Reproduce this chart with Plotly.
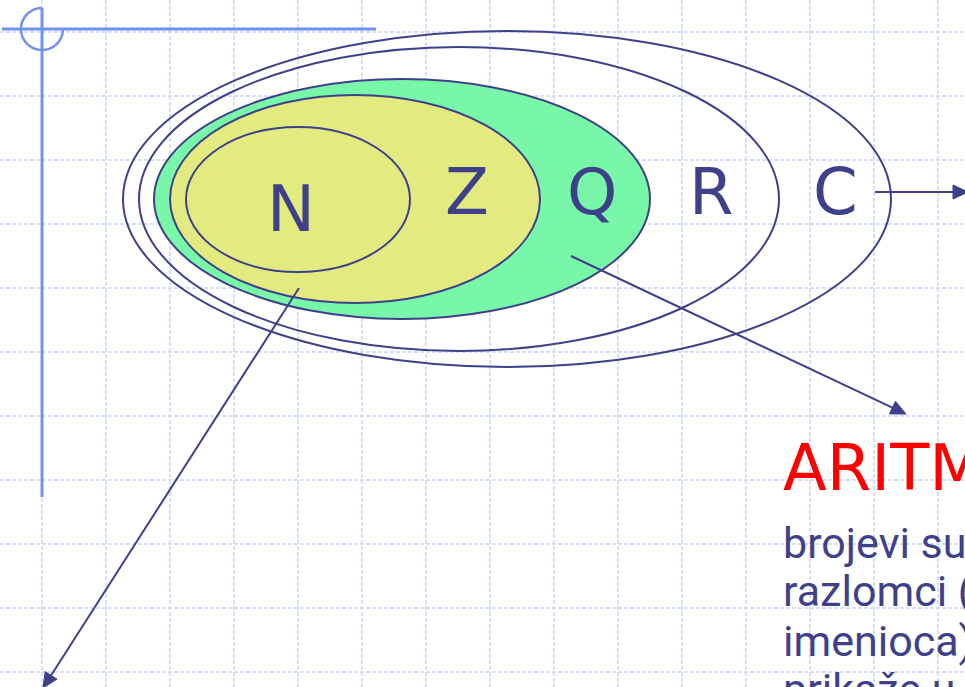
import numpy as np
import plotly.graph_objects as go

W, H = 965, 687

# ---- data (pixel-space diagram coordinates, y grows downward) ----
set_names = ["C", "R", "Q", "Z", "N"]
ell_cx = [507, 459, 402, 355, 298]
ell_cy = [199, 199, 199, 199, 199.5]
ell_rx = [384, 320, 248, 185, 112]
ell_ry = [168, 152, 120, 104, 72.5]
ell_fill = [None, None, "#78f7a9", "#e2ea80", "#e2ea80"]

label_text = ["N", "Z", "Q", "R", "C"]
label_x = [291, 467, 592, 711, 835]
label_y = [209, 192, 192, 192, 192]

arrow_x0 = [299, 571, 875]
arrow_y0 = [288, 256, 192]
arrow_x1 = [43, 906, 968]
arrow_y1 = [688, 414, 192]

grid_x = list(range(42, W, 64))
grid_y = list(range(32, H, 64))

cross_cx, cross_cy, cross_r = 42, 29, 21
cross_hline = [2, 376]
cross_vline = [8, 497]

title_text = "ARITM"
title_x, title_y = 781, 468
body_lines = ["brojevi su", "razlomci (", "imenioca)", "prikaže u"]
body_x = 781
body_top = [516, 564, 614, 662]

NAVY = "#3e418a"
GRID = "#d6dff9"
CROSS = "#7190f0"

shapes = []
# grid
for gx in grid_x:
    shapes.append(dict(type="line", xref="x", yref="y", x0=gx, x1=gx, y0=0, y1=H,
                       line=dict(color=GRID, width=2, dash="4px,2px"), layer="below"))
for gy in grid_y:
    shapes.append(dict(type="line", xref="x", yref="y", x0=0, x1=W, y0=gy, y1=gy,
                       line=dict(color=GRID, width=2, dash="4px,2px"), layer="below"))

# blue corner cross
shapes.append(dict(type="line", x0=cross_hline[0], x1=cross_hline[1], y0=cross_cy, y1=cross_cy,
                   line=dict(color=CROSS, width=3)))
shapes.append(dict(type="line", x0=cross_cx, x1=cross_cx, y0=cross_vline[0], y1=cross_vline[1],
                   line=dict(color=CROSS, width=3)))
ang = np.linspace(-np.pi / 2, -2 * np.pi, 60)  # from top, around left & bottom, to right
pts = [(cross_cx + cross_r * np.cos(a), cross_cy + cross_r * np.sin(a)) for a in ang]
path = "M " + " L ".join(f"{px:.2f},{py:.2f}" for px, py in pts)
shapes.append(dict(type="path", path=path, line=dict(color=CROSS, width=2.5)))

# nested ellipses
for cx, cy, rx, ry, fc in zip(ell_cx, ell_cy, ell_rx, ell_ry, ell_fill):
    d = dict(type="circle", x0=cx - rx, x1=cx + rx, y0=cy - ry, y1=cy + ry,
             line=dict(color=NAVY, width=2))
    if fc:
        d["fillcolor"] = fc
    shapes.append(d)

# arrows
L, HW = 15, 7
for x0, y0, x1, y1 in zip(arrow_x0, arrow_y0, arrow_x1, arrow_y1):
    dx, dy = x1 - x0, y1 - y0
    n = np.hypot(dx, dy)
    ux, uy = dx / n, dy / n
    bx, by = x1 - L * ux, y1 - L * uy
    px, py = -uy, ux
    shapes.append(dict(type="line", x0=x0, y0=y0, x1=bx + ux, y1=by + uy,
                       line=dict(color=NAVY, width=2)))
    tri = (f"M {x1:.2f},{y1:.2f} L {bx + HW * px:.2f},{by + HW * py:.2f} "
           f"L {bx - HW * px:.2f},{by - HW * py:.2f} Z")
    shapes.append(dict(type="path", path=tri, fillcolor=NAVY, line=dict(color=NAVY, width=1)))

annotations = []
for t, x, y in zip(label_text, label_x, label_y):
    annotations.append(dict(x=x, y=y, xref="x", yref="y", text=t, showarrow=False,
                            xanchor="center", yanchor="middle",
                            font=dict(family="DejaVu Sans", size=64, color=NAVY)))
annotations.append(dict(x=title_x, y=title_y, xref="x", yref="y", text=title_text,
                        showarrow=False, xanchor="left", yanchor="middle",
                        font=dict(family="DejaVu Sans", size=64, color="#ff0000")))
for t, yt in zip(body_lines, body_top):
    annotations.append(dict(x=body_x, y=yt, xref="x", yref="y", text=t, showarrow=False,
                            xanchor="left", yanchor="top",
                            font=dict(family="Roboto", size=43, color=NAVY)))

fig = go.Figure()
fig.add_trace(go.Scatter(x=[0], y=[0], mode="markers", marker=dict(opacity=0),
                         hoverinfo="skip", showlegend=False))
fig.update_layout(
    width=W, height=H, margin=dict(l=0, r=0, t=0, b=0),
    paper_bgcolor="white", plot_bgcolor="white",
    xaxis=dict(range=[0, W], visible=False, fixedrange=True),
    yaxis=dict(range=[H, 0], visible=False, fixedrange=True),
    shapes=shapes, annotations=annotations, showlegend=False,
)
fig.write_html("out.html", config={"displayModeBar": False},
               post_script="document.body.style.margin='0';document.body.style.overflow='hidden';")
